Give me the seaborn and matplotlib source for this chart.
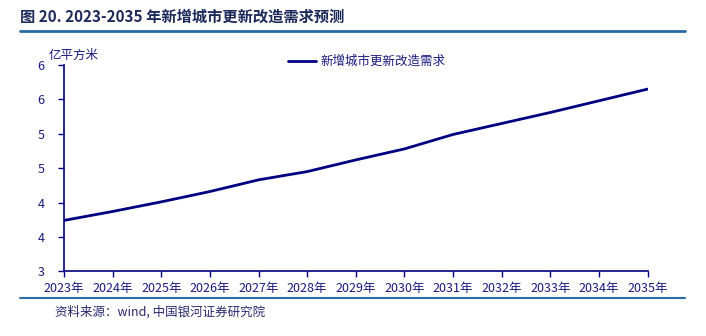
import matplotlib
matplotlib.use("Agg")
import matplotlib.pyplot as plt
from matplotlib.lines import Line2D
from matplotlib.ticker import FixedLocator, FixedFormatter
import seaborn as sns
import pandas as pd

years = [2023, 2024, 2025, 2026, 2027, 2028, 2029, 2030, 2031, 2032, 2033, 2034, 2035]
demand = [3.74, 3.87, 4.01, 4.16, 4.33, 4.45, 4.62, 4.78, 4.99, 5.15, 5.31, 5.48, 5.65]
series_name = "新增城市更新改造需求"
y_ticks = [3.0, 3.5, 4.0, 4.5, 5.0, 5.5, 6.0]
y_tick_labels = ["3", "4", "4", "5", "5", "6", "6"]
x_tick_labels = [f"{y}年" for y in years]

sns.set_theme(style="white")
plt.rcParams["font.family"] = ["Noto Sans CJK SC", "DejaVu Sans"]

navy = "#000080"
text_navy = "#1a1a80"
rule_blue = "#2a6aa6"

W, H = 706, 336
fig = plt.figure(figsize=(W / 100, H / 100), dpi=100)
ax = fig.add_axes([64 / W, (H - 271.3) / H, (647.7 - 64) / W, (271.3 - 65) / H])

df = pd.DataFrame({"year": years, "value": demand})
sns.lineplot(data=df, x="year", y="value", ax=ax, color=navy, linewidth=2.0,
             label=series_name, legend=False)

ax.set_xlim(years[0], years[-1])
ax.set_ylim(3.0, 6.0)
ax.xaxis.set_major_locator(FixedLocator(years))
ax.xaxis.set_major_formatter(FixedFormatter(x_tick_labels))
ax.yaxis.set_major_locator(FixedLocator(y_ticks))
ax.yaxis.set_major_formatter(FixedFormatter(y_tick_labels))
ax.set_xlabel("")
ax.set_ylabel("")

for side in ("top", "right"):
    ax.spines[side].set_visible(False)
for side in ("left", "bottom"):
    ax.spines[side].set_color(navy)
    ax.spines[side].set_linewidth(1.2)

ax.tick_params(axis="both", which="major", direction="out", length=4, width=1.0,
               color=navy, labelcolor=text_navy, labelsize=9)
ax.tick_params(axis="y", pad=10)
ax.tick_params(axis="x", pad=4)
ax.tick_params(left=True, bottom=True)
ax.patch.set_alpha(0)

# legend at top center
leg = ax.legend(handles=[Line2D([0], [0], color=navy, linewidth=2.0)], labels=[series_name],
                loc="upper left", bbox_to_anchor=(288 / W, (H - 55) / H),
                bbox_transform=fig.transFigure, frameon=False, fontsize=9,
                handlelength=2.2, handletextpad=0.4, borderaxespad=0, borderpad=0)
for t in leg.get_texts():
    t.set_color(text_navy)

# unit label
fig.text(49 / W, (H - 55) / H, "亿平方米", fontsize=9, color=text_navy, va="center", ha="left")

# title and rules
fig.text(20 / W, (H - 17) / H, "图 20. 2023-2035 年新增城市更新改造需求预测", fontsize=11,
         fontweight="bold", color="#1c2a5a", va="center", ha="left")
fig.add_artist(Line2D([20 / W, 685 / W], [(H - 31) / H] * 2, color=rule_blue, linewidth=2.0,
                      transform=fig.transFigure))
fig.add_artist(Line2D([20 / W, 685 / W], [(H - 298) / H] * 2, color=rule_blue, linewidth=1.5,
                      transform=fig.transFigure))

# source note
fig.text(55 / W, (H - 312) / H, "资料来源：wind, 中国银河证券研究院", fontsize=9,
         color="#2a2a70", va="center", ha="left", style="italic")

fig.savefig("out.png", dpi=100)
